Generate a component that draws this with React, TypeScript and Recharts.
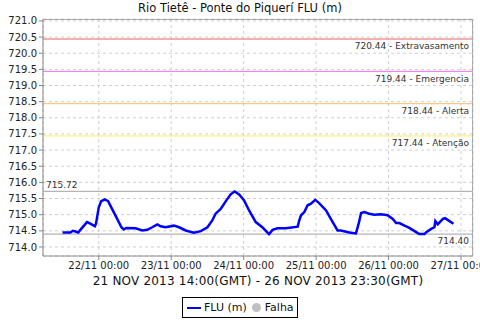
import React from 'react';
import { LineChart, Line, XAxis, YAxis, CartesianGrid, ReferenceLine } from 'recharts';

// hours since 22/11 00:00 (local time) and river level (m)
const hours = [
  -12, -9.4, -8.6, -7.7, -6.8, -6.1, -3.9, -2.8, -1.3, -0.9, 0, 0.8, 2.0, 3.1, 4.4, 6.1, 7.5, 8.3, 9.1,
  12.2, 14.4, 16.1, 17.7, 19.4, 20.5, 22.1, 24.9, 26.6, 28.8, 31.5, 33.8, 36.0, 37.6, 38.7, 40.4, 42.1,
  43.7, 45.0, 46.5, 48.1, 49.8, 52.0, 54.2, 56.4, 57.6, 59.2, 62.0, 65.9, 66.4, 67.0, 68.1, 69.2, 70.3,
  71.7, 73.0, 75.3, 77.5, 79.1, 80.2, 83.0, 85.2, 86.1, 86.9, 88.0, 89.6, 91.3, 93.5, 95.7, 97.4, 98.5,
  99.6, 101.3, 102.9, 104.6, 106.2, 107.9, 108.4, 110.1, 111.2, 111.5, 112.3, 114.0, 114.7, 116.2, 117.5,
];
const levels = [
  714.45, 714.45, 714.5, 714.48, 714.45, 714.53, 714.77, 714.72, 714.64, 714.73, 715.23, 715.42, 715.47,
  715.42, 715.18, 714.87, 714.61, 714.54, 714.59, 714.58, 714.51, 714.53, 714.61, 714.7, 714.64, 714.61,
  714.66, 714.61, 714.51, 714.44, 714.49, 714.61, 714.82, 715.03, 715.18, 715.42, 715.63, 715.72, 715.63,
  715.45, 715.13, 714.77, 714.61, 714.4, 714.53, 714.58, 714.58, 714.63, 714.82, 714.98, 715.08, 715.29,
  715.34, 715.46, 715.36, 715.13, 714.77, 714.51, 714.51, 714.45, 714.42, 714.72, 715.05, 715.08, 715.03,
  715.0, 715.01, 714.98, 714.87, 714.74, 714.74, 714.66, 714.59, 714.49, 714.4, 714.4, 714.45, 714.56,
  714.61, 714.8, 714.7, 714.87, 714.89, 714.8, 714.72,
];

const thresholdValues = [720.44, 719.44, 718.44, 717.44];
const thresholdNames = ['Extravasamento', 'Emergencia', 'Alerta', 'Atenção'];
const thresholdColors = ['#f09494', '#ee88ee', '#ffc884', '#fff07a'];
const maxLevel = 715.72;
const minLevel = 714.4;

const yTicks = [714, 714.5, 715, 715.5, 716, 716.5, 717, 717.5, 718, 718.5, 719, 719.5, 720, 720.5, 721];
const xTicks = [0, 24, 48, 72, 96, 120];
const xTickDays = ['22/11', '23/11', '24/11', '25/11', '26/11', '27/11'];

const data = hours.map((h, i) => ({ h, v: levels[i] }));

const font = '"DejaVu Sans", sans-serif';
const labelStyle = { fontSize: 9, fill: '#333', fontFamily: font };

export default function App() {
  return (
    <div style={{ position: 'fixed', left: 0, top: 0, width: 480, height: 320, background: '#fff', fontFamily: font, overflow: 'hidden' }}>
      <div style={{ position: 'absolute', top: 1, left: 0, width: 480, textAlign: 'center', fontSize: 11.5, color: '#111' }}>
        Rio Tietê - Ponte do Piquerí FLU (m)
      </div>
      <LineChart width={480} height={320} data={data} margin={{ top: 19, right: 7, left: 0, bottom: 44 }}>
        <CartesianGrid stroke="#d0d0d0" strokeDasharray="3 3" />
        <XAxis
          type="number"
          dataKey="h"
          domain={[-18.475, 123.975]}
          ticks={xTicks}
          interval={0}
          allowDataOverflow
          height={20}
          tickSize={4}
          stroke="#888"
          tick={{ fontSize: 10, fill: '#222', fontFamily: font }}
          tickFormatter={(v: number) => `${xTickDays[xTicks.indexOf(v)]} 00:00`}
        />
        <YAxis
          type="number"
          domain={[713.72, 721.06]}
          ticks={yTicks}
          interval={0}
          allowDataOverflow
          width={43}
          tickSize={4}
          stroke="#888"
          tick={{ fontSize: 10, fill: '#222', fontFamily: font }}
          tickFormatter={(v: number) => v.toFixed(1)}
        />
        {thresholdValues.map((t, i) => (
          <ReferenceLine
            key={t}
            y={t}
            stroke={thresholdColors[i]}
            strokeWidth={1.3}
            label={{ value: `${t.toFixed(2)} - ${thresholdNames[i]}`, position: 'insideTopRight', offset: 4, ...labelStyle }}
          />
        ))}
        <ReferenceLine
          y={maxLevel}
          stroke="#b4b4b4"
          strokeWidth={1.2}
          label={{ value: maxLevel.toFixed(2), position: 'insideBottomLeft', offset: 3, ...labelStyle }}
        />
        <ReferenceLine
          y={minLevel}
          stroke="#b4b4b4"
          strokeWidth={1.2}
          label={{ value: minLevel.toFixed(2), position: 'insideTopRight', offset: 4, ...labelStyle }}
        />
        <Line type="linear" dataKey="v" stroke="#0000ff" strokeWidth={2.5} dot={false} isAnimationActive={false} />
      </LineChart>
      <div style={{ position: 'absolute', left: 43, top: 19, width: 429, height: 236, border: '1px solid #aaa', borderLeft: 'none', borderBottom: 'none', pointerEvents: 'none' }} />
      <div style={{ position: 'absolute', top: 274, left: 43, width: 430, textAlign: 'center', fontSize: 12, color: '#111', letterSpacing: 0.2, whiteSpace: 'nowrap' }}>
        21 NOV 2013 14:00(GMT) - 26 NOV 2013 23:30(GMT)
      </div>
      <div style={{ position: 'absolute', left: 182, top: 297, width: 114, height: 19, border: '1px solid #000', display: 'flex', alignItems: 'center', fontSize: 11, color: '#111', whiteSpace: 'nowrap' }}>
        <span style={{ display: 'inline-block', width: 14, height: 2, background: '#0000ff', marginLeft: 4, marginRight: 3 }} />
        <span>FLU (m)</span>
        <span style={{ display: 'inline-block', width: 9, height: 9, borderRadius: '50%', background: '#c0c0c0', marginLeft: 5, marginRight: 4 }} />
        <span>Falha</span>
      </div>
    </div>
  );
}
